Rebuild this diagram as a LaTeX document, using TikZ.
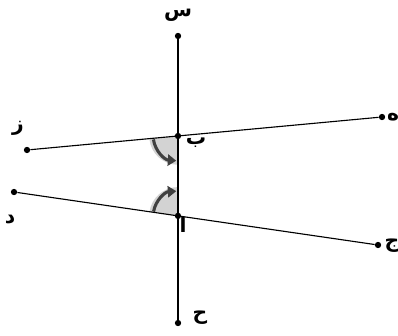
\documentclass[tikz,border=0pt]{standalone}
\usepackage{fontspec}
\usepackage{tikz}
\usetikzlibrary{arrows.meta}
\newfontfamily\arabicfont[Script=Arabic]{DejaVu Sans}
\TeXXeTstate=1
\definecolor{cdark}{HTML}{404040}
\definecolor{cfill}{HTML}{D3D3D3}
\newcommand{\ar}[1]{{\arabicfont\bfseries\beginR #1\endR}}

\begin{document}
\begin{tikzpicture}[x=0.025cm,y=0.025cm,
    line/.style={line width=0.8pt,black},
    dot/.style={circle,fill=black,inner sep=0pt,minimum size=4.5pt},
    lab/.style={font=\Large},
    turn/.style={line width=2.2pt,cdark,-{Triangle[length=6pt,width=8pt]}}]
  \useasboundingbox (0,0) rectangle (398,335);
  % end points
  \node[dot] (S) at (178,299) {};
  \node[dot] (H) at (178,12) {};
  \node[dot] (Z) at (27,185) {};
  \node[dot] (E) at (382,218) {};
  \node[dot] (D) at (14,143) {};
  \node[dot] (J) at (378,90) {};
  % crossing points
  \coordinate (B) at (intersection of Z--E and S--H);
  \coordinate (A) at (intersection of D--J and S--H);
  % angles
  \fill[cfill] (B) -- ++(186:0.72cm) arc[start angle=186,end angle=270,radius=0.72cm] -- cycle;
  \fill[cfill] (A) -- ++(172:0.72cm) arc[start angle=172,end angle=90,radius=0.72cm] -- cycle;
  \draw[turn] (B) ++(188:0.62cm) arc[start angle=188,end angle=266,radius=0.62cm];
  \draw[turn] (A) ++(170:0.62cm) arc[start angle=170,end angle=94,radius=0.62cm];
  % lines
  \draw[line] (S) -- (H);
  \draw[line] (Z) -- (E);
  \draw[line] (D) -- (J);
  \node[dot] at (B) {};
  \node[dot] at (A) {};
  % labels
  \node[lab] (labS) at (178,320) {\ar{س}};
  \node[lab] (labZ) at (18,207) {\ar{ز}};
  \node[lab] (labE) at (393,218) {\ar{ه}};
  \node[lab] (labB) at (196,192) {\ar{ب}};
  \node[lab] (labD) at (10,115) {\ar{د}};
  \node[lab] (labA) at (183,110) {\ar{ا}};
  \node[lab] (labJ) at (392,89) {\ar{ج}};
  \node[lab] (labH) at (200,17) {\ar{ح}};
\end{tikzpicture}
\end{document}
